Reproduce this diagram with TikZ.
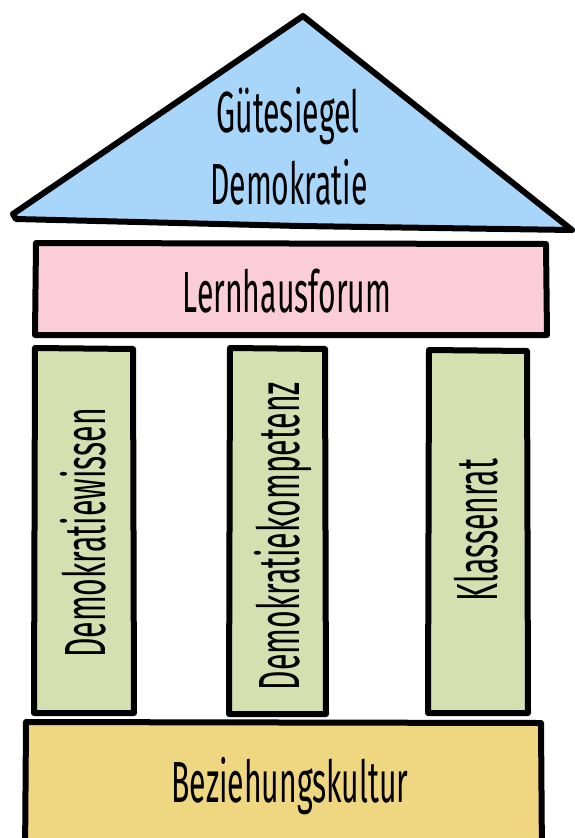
\documentclass[tikz,border=0pt]{standalone}
\usepackage{fontspec}
\usepackage{tikz}
\newfontfamily\handfont[FakeStretch=0.52]{Fira Sans}
\definecolor{roofblue}{RGB}{168,214,250}
\definecolor{forumpink}{RGB}{250,205,216}
\definecolor{pillargreen}{RGB}{213,224,177}
\definecolor{baseyellow}{RGB}{239,214,128}
\newcommand{\drawblock}[5]{\filldraw[fill=#1,line width=6pt,line join=round] ({#2},{#3}) -- ({#4},{#3+1}) -- ({#4+1},{#5}) -- ({#2-1},{#5}) -- cycle;}
\tikzset{word/.style={font=\handfont\fontsize{58}{60}\selectfont,anchor=base,inner sep=0pt}}

\begin{document}
\begin{tikzpicture}[x=1pt,y=-1pt]
            \useasboundingbox (0,0) rectangle (575,838);
            \filldraw[fill=roofblue,line width=6pt,line join=round,line cap=round] (13,214) -- (303,16) -- (572,230) -- (300,226) -- (16,219) -- cycle;
            \drawblock{forumpink}{36}{243}{546}{335} \drawblock{pillargreen}{35}{348}{133}{713} \drawblock{pillargreen}{230}{348}{325}{714}
            \drawblock{pillargreen}{429}{350}{527}{713} \drawblock{baseyellow}{26}{722}{541}{860}
            \node[word] (roof1) at (288,132) {Gütesiegel}; \node[word] (roof2) at (289,204) {Demokratie};
            \node[word] (forum) at (287,312) {Lernhausforum}; \node[word] (base) at (290,802) {Beziehungskultur};
            \node[word,rotate=90] (wissen) at (105,533) {Demokratiewissen}; \node[word,rotate=90] (kompetenz) at (299,536) {Demokratiekompetenz};
            \node[word,rotate=90] (klassenrat) at (497,530) {Klassenrat};
        \end{tikzpicture}
\end{document}
